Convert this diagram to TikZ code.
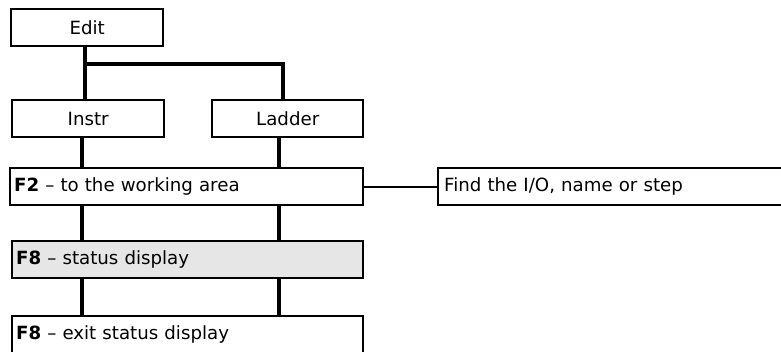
\documentclass[tikz,border=0pt]{standalone}
\usepackage{fontspec}
\setmainfont{DejaVu Sans}
\usetikzlibrary{calc}
\definecolor{boxgray}{HTML}{E6E6E6}
\tikzset{
  box/.style={draw=black, line width=2.4pt, rectangle, anchor=north west, inner sep=0pt,
    font=\fontsize{18.2}{21}\selectfont, minimum height=37pt},
  cbox/.style={box, align=center},
  lbox/.style={box, align=left, text width=#1-8pt, minimum width=#1, inner xsep=4pt},
  thick link/.style={line width=3.6pt},
  thin link/.style={line width=2.2pt}
}
\begin{document}
\begin{tikzpicture}[x=1pt, y=-1pt]
\useasboundingbox (0,0) rectangle (781,352);
\clip (0,0) rectangle (781,352);
\node[cbox, minimum width=152pt] (edit) at (10,8) {Edit};
\node[cbox, minimum width=152pt] (instr) at (11,99) {Instr};
\node[cbox, minimum width=151pt] (ladder) at (211,99) {Ladder};
\node[lbox=353pt] (f2) at (9,167) {\textbf{F2} -- to the working area};
\node[lbox=400pt, inner xsep=6pt, text width=388pt] (find) at (437,167) {Find the I/O, name or step};
\node[lbox=351pt, fill=boxgray] (f8) at (11,240) {\textbf{F8} -- status display};
\node[lbox=351pt] (exit) at (11,315) {\textbf{F8} -- exit status display};
\coordinate (jl) at (85,64);
\coordinate (jr) at (283,64);
\coordinate (ll) at (82,0);
\coordinate (lr) at (279,0);
% Edit to Instr and Ladder
\draw[thick link] (jl |- edit.south) -- (jl |- instr.north);
\draw[thick link] (jl) -- (jr) -- (jr |- ladder.north);
% Instr, Ladder to F2
\draw[thick link] (ll |- instr.south) -- (ll |- f2.north);
\draw[thick link] (lr |- ladder.south) -- (lr |- f2.north);
% F2 to F8
\draw[thick link] (ll |- f2.south) -- (ll |- f8.north);
\draw[thick link] (lr |- f2.south) -- (lr |- f8.north);
% F8 to exit
\draw[thick link] (ll |- f8.south) -- (ll |- exit.north);
\draw[thick link] (lr |- f8.south) -- (lr |- exit.north);
% F2 to Find
\draw[thin link] (f2.east) -- (f2.east -| find.west);
\end{tikzpicture}
\end{document}
